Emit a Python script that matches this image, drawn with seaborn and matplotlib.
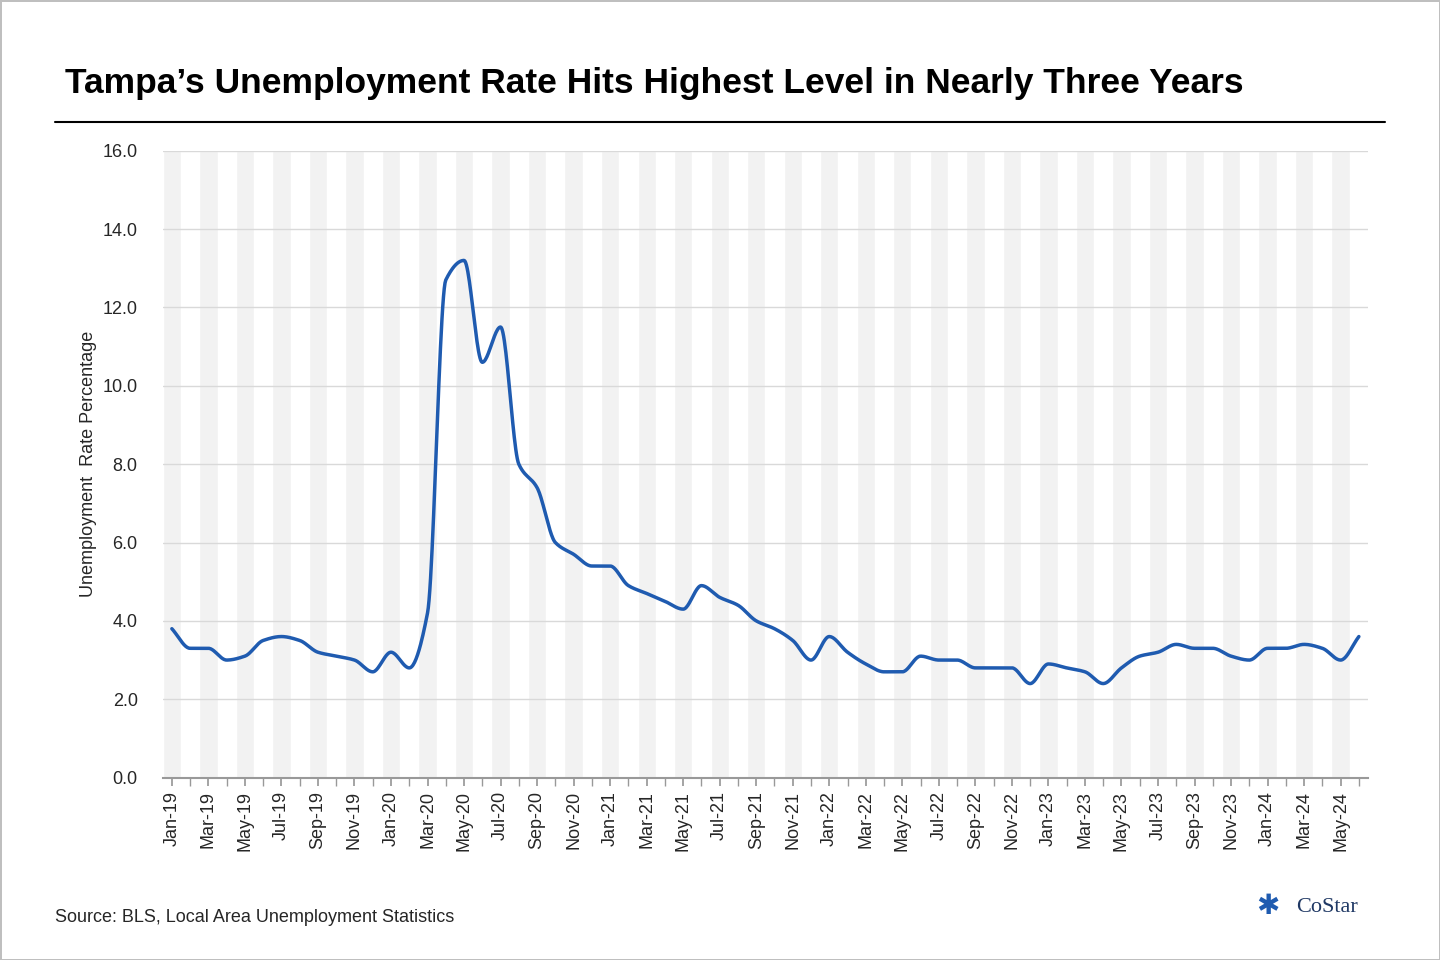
import numpy as np
import pandas as pd
import seaborn as sns
import matplotlib.pyplot as plt
from matplotlib.lines import Line2D

# monthly unemployment rate, Jan-19 .. Jun-24
rate = [3.8, 3.3, 3.3, 3.0, 3.1, 3.5, 3.6, 3.5, 3.2, 3.1, 3.0, 2.7,
        3.2, 2.8, 4.2, 12.7, 13.2, 10.6, 11.5, 8.0, 7.4, 6.0, 5.7, 5.4,
        5.4, 4.9, 4.7, 4.5, 4.3, 4.9, 4.6, 4.4, 4.0, 3.8, 3.5, 3.0,
        3.6, 3.2, 2.9, 2.7, 2.7, 3.1, 3.0, 3.0, 2.8, 2.8, 2.8, 2.4,
        2.9, 2.8, 2.7, 2.4, 2.8, 3.1, 3.2, 3.4, 3.3, 3.3, 3.1, 3.0,
        3.3, 3.3, 3.4, 3.3, 3.0, 3.6]
months = pd.date_range('2019-01-01', periods=len(rate), freq='MS')
month_labels = [d.strftime('%b-%y') for d in months]
band_height = 16.0

sns.set_theme(style='white')
plt.rcParams['font.family'] = ['Liberation Sans', 'DejaVu Sans']

fig = plt.figure(figsize=(14.4, 9.6), dpi=100)
ax = fig.add_axes([0.113, 0.19, 0.837, 0.653])

idx = np.arange(len(rate))
# alternating grey month bands
ax.bar(idx[::2], [band_height] * len(idx[::2]), width=1.0, color='#f2f2f2', zorder=0)

# smooth curve through monthly points (monotone cubic, no overshoot)
y = np.array(rate)
d = np.diff(y)
m = np.zeros_like(y)
m[0], m[-1] = d[0], d[-1]
for i in range(1, len(y) - 1):
    if d[i - 1] * d[i] > 0:
        m[i] = 2 / (1 / d[i - 1] + 1 / d[i])
xs, ys = [], []
t = np.linspace(0, 1, 24, endpoint=False)
for i in range(len(y) - 1):
    h00 = 2 * t**3 - 3 * t**2 + 1
    h10 = t**3 - 2 * t**2 + t
    h01 = -2 * t**3 + 3 * t**2
    h11 = t**3 - t**2
    xs.extend(i + t)
    ys.extend(h00 * y[i] + h10 * m[i] + h01 * y[i + 1] + h11 * m[i + 1])
xs.append(len(y) - 1)
ys.append(y[-1])
sns.lineplot(x=xs, y=ys, ax=ax, color='#1f5bb0', linewidth=2.5, zorder=3)

ax.set_xlim(-0.5, len(rate) - 0.5)
ax.set_ylim(0, 16)
ax.set_yticks(np.arange(0, 16.1, 2))
ax.set_yticklabels([f'{v:.1f}' for v in np.arange(0, 16.1, 2)], fontsize=13)
ax.set_xticks(idx[::2])
ax.set_xticklabels(month_labels[::2], rotation=90, fontsize=13)
ax.set_xticks(idx, minor=True)
ax.tick_params(axis='x', which='both', direction='out', length=6, color='#999999', bottom=True)
ax.tick_params(axis='y', length=0, pad=18)
ax.yaxis.grid(True, color='#d9d9d9', linewidth=1)
ax.set_axisbelow(True)
for s in ['top', 'right', 'left']:
    ax.spines[s].set_visible(False)
ax.spines['bottom'].set_color('#999999')
ax.spines['bottom'].set_linewidth(1.5)
ax.set_ylabel('Unemployment  Rate Percentage', fontsize=13, labelpad=4)

fig.text(0.045, 0.913, 'Tampa\u2019s Unemployment Rate Hits Highest Level in Nearly Three Years',
         fontsize=25.5, fontweight='bold', va='center', color='black')
fig.add_artist(Line2D([0.038, 0.962], [0.873, 0.873], color='black', linewidth=1.5))
fig.text(0.038, 0.044, 'Source: BLS, Local Area Unemployment Statistics', fontsize=13, va='center')
fig.text(0.9, 0.055, 'CoStar', fontsize=16, color='#1f3864', family='Liberation Serif', va='center')
fig.text(0.872, 0.055, '\u2731', fontsize=20, color='#1f5bb0', va='center')

fig.patch.set_edgecolor('#bfbfbf')
fig.patch.set_linewidth(2)
fig.savefig('out.png', dpi=100, edgecolor=fig.get_edgecolor())
